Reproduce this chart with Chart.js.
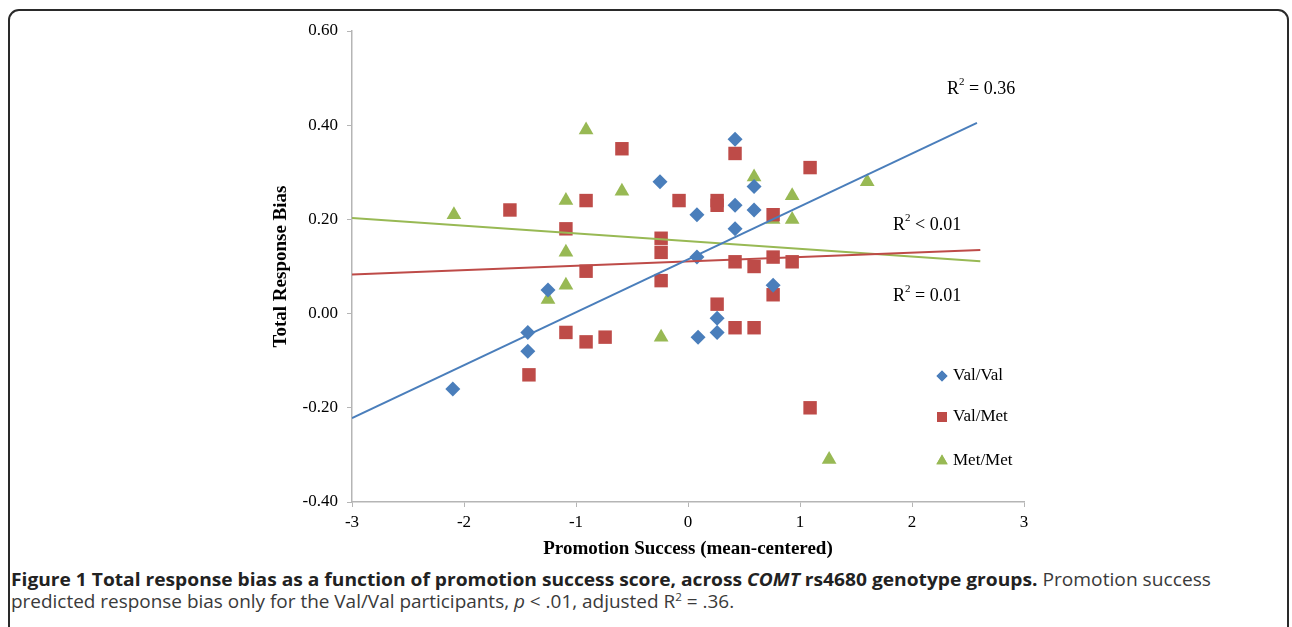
<!DOCTYPE html>
<html>
<head>
<meta charset="utf-8">
<script src="https://cdn.jsdelivr.net/npm/chart.js@4/dist/chart.umd.min.js"></script>
<style>
    body { margin: 0; background: #fff; width: 1292px; height: 627px; overflow: hidden; position: relative; }
    #frame { position: absolute; left: 8px; top: 9px; width: 1281px; height: 700px; border: 2px solid #2a2a2a; border-radius: 11px; box-sizing: border-box; }
    #chartBox { position: absolute; left: 0; top: 0; }
    .caption { position: absolute; left: 11px; font-family: 'Open Sans', sans-serif; font-size: 18px; white-space: nowrap; transform-origin: 0 50%; color: #3a3a3a; line-height: 22px; }
    .caption b { color: #222; }
    .caption sup { font-size: 11px; line-height: 0; }
</style>
</head>
<body>
<div id="frame"></div>
<div id="chartBox"><canvas id="grafico" width="1292" height="560"></canvas></div>
<div class="caption" id="cap1" style="top:568px"><b>Figure 1 Total response bias as a function of promotion success score, across <i>COMT</i> rs4680 genotype groups.</b> Promotion success</div>
<div class="caption" id="cap2" style="top:590px">predicted response bias only for the Val/Val participants, <i>p</i> &lt; .01, adjusted R<sup>2</sup> = .36.</div>
<script>
// datos
const valValX = [-2.10, -1.43, -1.43, -1.25, -0.25, 0.08, 0.08, 0.09, 0.26, 0.26, 0.42, 0.42, 0.42, 0.59, 0.59, 0.76];
const valValY = [-0.16, -0.04, -0.08, 0.05, 0.28, 0.21, 0.12, -0.05, -0.01, -0.04, 0.37, 0.23, 0.18, 0.27, 0.22, 0.06];

const valMetX = [-1.59, -1.42, -1.09, -1.09, -0.91, -0.91, -0.91, -0.74, -0.59, -0.24, -0.24, -0.24, -0.08, 0.26, 0.26, 0.26, 0.42, 0.42, 0.42, 0.59, 0.59, 0.76, 0.76, 0.76, 0.93, 1.09, 1.09];
const valMetY = [0.22, -0.13, 0.18, -0.04, 0.24, 0.09, -0.06, -0.05, 0.35, 0.16, 0.13, 0.07, 0.24, 0.24, 0.23, 0.02, 0.34, 0.11, -0.03, 0.10, -0.03, 0.21, 0.12, 0.04, 0.11, 0.31, -0.20];

const metMetX = [-2.09, -1.25, -1.09, -1.09, -1.09, -0.91, -0.59, -0.24, 0.59, 0.76, 0.93, 0.93, 1.26, 1.60];
const metMetY = [0.21, 0.03, 0.24, 0.13, 0.06, 0.39, 0.26, -0.05, 0.29, 0.20, 0.25, 0.20, -0.31, 0.28];

// lineas de tendencia (extremos leidos)
const trendX = [-3, 2.58, 2.61];
const trendValVal = [-0.222, 0.405];
const trendValMet = [0.083, 0.135];
const trendMetMet = [0.203, 0.111];

const xTicks = [-3, -2, -1, 0, 1, 2, 3];
const yTicks = [-0.4, -0.2, 0, 0.2, 0.4, 0.6];

const grupos = ['Val/Val', 'Val/Met', 'Met/Met'];
const colores = ['#4a7ebb', '#be4b48', '#98b954'];
const estilos = ['rectRot', 'rect', 'triangle'];
const radios = [7.5, 9.5, 8.5];
const r2Labels = [
    { pre: 'R', post: ' = 0.36', x: 947, y: 89 },
    { pre: 'R', post: ' < 0.01', x: 893, y: 225 },
    { pre: 'R', post: ' = 0.01', x: 893, y: 296 }
];

function toPoints(xs, ys) {
    return xs.map((x, i) => ({ x: x, y: ys[i] }));
}

function trendPoints(ys, xEnd) {
    return [{ x: trendX[0], y: ys[0] }, { x: xEnd, y: ys[1] }];
}

const serif = "'Liberation Serif', 'Times New Roman', serif";

const extrasPlugin = {
    id: 'extras',
    afterDraw(chart) {
        const ctx = chart.ctx;
        ctx.save();
        ctx.fillStyle = '#000';
        ctx.textBaseline = 'middle';
        // R2 labels
        r2Labels.forEach(lbl => {
            ctx.font = '18px ' + serif;
            ctx.fillText(lbl.pre, lbl.x, lbl.y);
            const w = ctx.measureText(lbl.pre).width;
            ctx.font = '11px ' + serif;
            ctx.fillText('2', lbl.x + w, lbl.y - 7);
            const w2 = ctx.measureText('2').width;
            ctx.font = '18px ' + serif;
            ctx.fillText(lbl.post, lbl.x + w + w2, lbl.y);
        });
        // leyenda
        const legendY = [376, 417, 461];
        const legendR = [5.5, 7, 6.5];
        grupos.forEach((g, i) => {
            ctx.fillStyle = colores[i];
            Chart.helpers.drawPoint(ctx, { pointStyle: estilos[i], radius: legendR[i], borderWidth: 0 }, 942, legendY[i]);
            ctx.fill();
            ctx.fillStyle = '#000';
            ctx.font = '17px ' + serif;
            ctx.fillText(g, 953, legendY[i]);
        });
        ctx.restore();
    }
};

function scatterSet(i, xs, ys) {
    return {
        type: 'scatter',
        label: grupos[i],
        data: toPoints(xs, ys),
        pointStyle: estilos[i],
        pointRadius: radios[i],
        pointHoverRadius: radios[i],
        backgroundColor: colores[i],
        borderColor: colores[i],
        borderWidth: 0,
        order: 2
    };
}

function trendSet(i, ys, xEnd) {
    return {
        type: 'line',
        label: 'trend ' + grupos[i],
        data: trendPoints(ys, xEnd),
        borderColor: colores[i],
        borderWidth: 2,
        pointRadius: 0,
        fill: false,
        order: 1
    };
}

new Chart(document.getElementById('grafico'), {
    type: 'scatter',
    data: {
        datasets: [
            trendSet(0, trendValVal, trendX[1]),
            trendSet(1, trendValMet, trendX[2]),
            trendSet(2, trendMetMet, trendX[2]),
            scatterSet(0, valValX, valValY),
            scatterSet(1, valMetX, valMetY),
            scatterSet(2, metMetX, metMetY)
        ]
    },
    options: {
        responsive: false,
        animation: false,
        layout: { padding: { left: 270, right: 268, top: 31, bottom: 0 } },
        plugins: {
            legend: { display: false },
            tooltip: { enabled: false }
        },
        scales: {
            x: {
                type: 'linear',
                min: -3,
                max: 3,
                afterBuildTicks: scale => { scale.ticks = xTicks.map(v => ({ value: v })); },
                afterFit: scale => { scale.height = 58; },
                grid: { drawOnChartArea: false, tickLength: 5, color: '#b5b5b5' },
                border: { color: '#b5b5b5', width: 1.5 },
                ticks: { color: '#000', padding: 5, font: { family: serif, size: 17 }, callback: v => String(v) },
                title: { display: true, text: 'Promotion Success (mean-centered)', color: '#000', padding: { top: 0, bottom: 0 }, font: { family: serif, size: 19, weight: 'bold' } }
            },
            y: {
                type: 'linear',
                min: -0.4,
                max: 0.6,
                afterBuildTicks: scale => { scale.ticks = yTicks.map(v => ({ value: v })); },
                afterFit: scale => { scale.width = 82; },
                grid: { drawOnChartArea: false, tickLength: 5, color: '#b5b5b5' },
                border: { color: '#b5b5b5', width: 1.5 },
                ticks: { color: '#000', padding: 9, font: { family: serif, size: 17 }, callback: v => Number(v).toFixed(2) },
                title: { display: true, text: 'Total Response Bias', color: '#000', padding: { top: 0, bottom: 0 }, font: { family: serif, size: 19, weight: 'bold' } }
            }
        }
    },
    plugins: [extrasPlugin]
});

// ajustar ancho del pie de figura
function fitCaption(id, target) {
    const el = document.getElementById(id);
    const w = el.scrollWidth;
    el.style.transform = 'scaleX(' + (target / w) + ')';
}
fitCaption('cap1', 1200);
fitCaption('cap2', 723);
</script>
</body>
</html>
